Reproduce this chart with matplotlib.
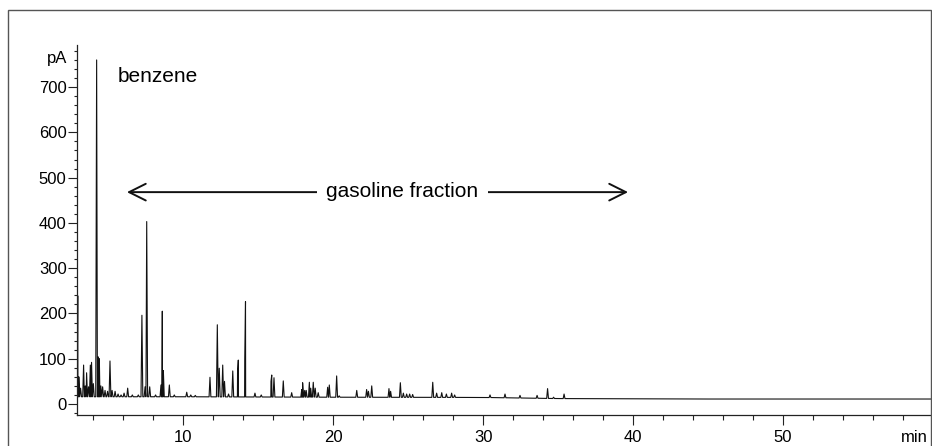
import numpy as np
import matplotlib
matplotlib.use("Agg")
import matplotlib.pyplot as plt
from matplotlib.patches import Rectangle
from matplotlib.ticker import MultipleLocator

plt.rcParams['font.family'] = ['Liberation Sans Narrow', 'Liberation Sans', 'DejaVu Sans']

# peak retention times (min) and peak tops (pA)
peak_time = [2.96, 3.03, 3.15, 3.35, 3.46, 3.55, 3.68, 3.80, 3.88, 4.00,
             4.22, 4.33, 4.40, 4.50, 4.62, 4.78, 4.95, 5.11, 5.25, 5.45,
             5.65, 5.85, 6.05, 6.29, 6.60, 7.00, 7.24, 7.45, 7.56, 7.76,
             8.15, 8.51, 8.60, 8.67, 9.07, 9.40, 10.23, 10.50, 10.80, 11.78,
             12.27, 12.40, 12.63, 12.75, 13.02, 13.30, 13.62, 13.67, 14.10, 14.15,
             14.78, 15.20, 15.85, 15.90, 16.05, 16.67, 17.23, 17.90, 17.96, 18.10,
             18.20, 18.41, 18.50, 18.67, 18.80, 19.00, 19.63, 19.74, 20.23, 20.40,
             21.57, 22.23, 22.35, 22.57, 23.72, 23.83, 24.48, 24.68, 24.90, 25.10,
             25.30, 26.64, 26.90, 27.24, 27.55, 27.90, 28.10, 30.46, 31.46, 32.46,
             33.60, 34.30, 34.70, 35.40]
peak_top = [239, 60, 35, 86, 40, 69, 38, 86, 92, 45,
            760, 104, 100, 40, 38, 30, 28, 95, 30, 28,
            22, 20, 24, 35, 20, 20, 196, 38, 403, 38,
            20, 42, 205, 74, 42, 20, 26, 20, 19, 59,
            175, 79, 86, 50, 22, 73, 70, 97, 100, 226,
            24, 20, 50, 64, 58, 51, 25, 32, 47, 30,
            30, 48, 35, 48, 35, 25, 37, 42, 62, 18,
            30, 32, 28, 40, 34, 28, 47, 24, 22, 22,
            21, 48, 24, 25, 22, 24, 20, 20, 22, 19,
            19, 34, 15, 22]

# baseline level (pA) along the run
base_time = [2.9, 10, 20, 30, 35, 45, 60]
base_level = [16, 16, 15, 14.5, 12, 11, 11]

# build the trace: each peak is a narrow spike rising from the local baseline
hw = 0.06
pts = [(2.92, 30.0)]
for t, h in zip(peak_time, peak_top):
    b = float(np.interp(t, base_time, base_level))
    pts += [(t - hw, b), (t, h), (t + hw, b)]
for t, b in zip(base_time, base_level):
    if t > 36:
        pts.append((t, b))
pts.sort(key=lambda p: p[0])
tx = [p[0] for p in pts]
ty = [p[1] for p in pts]

fig = plt.figure(figsize=(9.32, 4.46), dpi=100)
ax = fig.add_axes([77 / 932, 31 / 446, (931.5 - 77) / 932, (415 - 45) / 446])

ax.plot(tx, ty, color='#111111', lw=0.8)

ax.set_xlim(2.91, 59.91)
ax.set_ylim(-24.3, 793)

for s in ['top', 'right']:
    ax.spines[s].set_visible(False)
for s in ['left', 'bottom']:
    ax.spines[s].set_linewidth(0.9)
    ax.spines[s].set_color('#222222')

ax.xaxis.set_major_locator(MultipleLocator(10))
ax.xaxis.set_minor_locator(MultipleLocator(2))
ax.set_yticks(range(0, 800, 100))
ax.yaxis.set_minor_locator(MultipleLocator(20))

ax.tick_params(axis='x', which='major', length=7.2, width=0.8, pad=3.6, labelsize=12, color='#222222')
ax.tick_params(axis='x', which='minor', length=3.6, width=0.8, color='#222222')
ax.tick_params(axis='y', which='major', length=6.5, width=0.8, pad=1, labelsize=12, color='#222222')
ax.tick_params(axis='y', which='minor', length=2.5, width=0.8, color='#222222')

# annotations
ax.text(5.65, 711, 'benzene', fontsize=15, family=['Liberation Sans', 'DejaVu Sans'], va='baseline')
ax.annotate('', xy=(6.24, 468), xytext=(39.67, 468),
            arrowprops=dict(arrowstyle='<->,head_length=0.6,head_width=0.3',
                            mutation_scale=20, lw=1.4, color='#111111',
                            shrinkA=0, shrinkB=0))
ax.text(24.62, 457, 'gasoline fraction', fontsize=15, family=['Liberation Sans', 'DejaVu Sans'],
        ha='center', va='baseline',
        bbox=dict(fc='white', ec='none', pad=7))

fig.text(67 / 932, (446 - 58) / 446, 'pA', ha='right', va='center', fontsize=12)
fig.text(928 / 932, (446 - 437) / 446, 'min', ha='right', va='center', fontsize=12)

# outer frame of the scanned figure
fig.add_artist(Rectangle((8 / 932, -0.05), (931 - 8) / 932, (446 - 10) / 446 + 0.05,
                         transform=fig.transFigure, fill=False, ec='#555555', lw=1.0))

fig.savefig('out.png', dpi=100)
